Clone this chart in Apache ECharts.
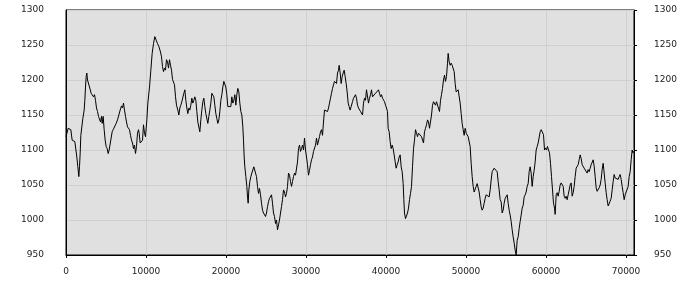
<!DOCTYPE html>
<html>
<head>
<meta charset="utf-8">
<script src="https://cdn.jsdelivr.net/npm/echarts@6/dist/echarts.min.js"></script>
<style>html,body{margin:0;padding:0;background:#fff;}#c{width:700px;height:300px;}</style>
</head>
<body>
<div id="c"></div>
<script>
var sampleX = [
0,271,438,604,771,938,1104,1229,1354,1479,1604,1688,1771,1854,1979,2104,2271,2354,2438,2521,2604,2688,2813,2938,3146,3271,3438,3563,3688,3813,3938,4063,4188,4313,4438,4521,4646,4771,4896,5021,5146,5271,5396,5521,5646,5771,5896,6021,6146,6271,6438,6604,6771,6938,7063,7188,7313,7438,7563,7688,7813,7938,8063,8188,8313,8438,8563,8688,8813,8938,9063,9146,9271,9438,9563,9688,9813,9938,10104,10229,10438,10604,10771,10938,11104,11271,11438,11604,
11813,11938,12063,12188,12313,12438,12563,12688,12813,12938,13063,13188,13313,13438,13563,13688,13813,13979,14104,14229,14354,14479,14604,14729,14854,14979,15104,15229,15354,15479,15604,15729,15854,15979,16104,16229,16354,16479,16604,16729,16854,16979,17104,17229,17354,17479,17604,17729,17854,17979,18104,18229,18354,18479,18604,18729,18854,18979,19104,19229,19354,19479,19604,19729,19854,19979,20104,20229,20354,20479,20604,20729,20854,20979,21104,21229,21354,21479,21604,21729,21854,21979,22104,22188,22271,22354,22479,22604,22688,22771,22854,22979,23104,23229,23354,23479,23604,
23813,23938,24063,24188,24313,24438,24563,24688,24813,24938,25063,25188,25313,25438,25563,25688,25813,25938,26063,26188,26313,26438,26563,26688,26813,26938,27063,27188,27313,27438,27563,27688,27813,27938,28063,28188,28313,28438,28563,28688,28813,28938,29063,29188,29313,29438,29563,29688,29813,29938,30063,30188,30313,30438,30563,30688,30813,30938,31063,31188,31313,31438,31563,31688,31813,31938,32063,32188,32313,32438,32563,32688,32813,32938,33063,33188,33313,33438,33563,33688,33813,33938,34063,34146,34271,34396,34521,34646,34771,34896,35021,35146,35271,35396,35521,35646,
35813,35938,36063,36188,36313,36438,36563,36688,36813,36938,37063,37188,37313,37438,37563,37688,37813,37938,38063,38188,38313,38438,38563,38688,38813,38938,39063,39188,39313,39438,39563,39688,39813,39938,40063,40188,40271,40396,40521,40646,40771,40896,41021,41146,41271,41396,41521,41646,41771,41896,42021,42146,42229,42313,42438,42563,42688,42813,42938,43063,43188,43313,43438,43563,43688,43813,43938,44063,44188,44313,44438,44563,44688,44813,44938,45063,45188,45313,45438,45563,45688,45813,45938,46063,46188,46313,46438,46563,46688,46813,46938,47063,47188,47313,47438,47563,47688,47771,
47896,48021,48146,48271,48396,48521,48646,48771,48896,49021,49146,49271,49396,49521,49646,49771,49896,50021,50146,50271,50396,50521,50646,50771,50896,51021,51146,51271,51396,51521,51646,51771,51896,52021,52146,52271,52396,52521,52646,52771,52896,53021,53146,53271,53396,53521,53646,53771,53896,54021,54146,54271,54396,54521,54646,54771,54896,55021,55146,55271,55396,55521,55646,55771,55896,56021,56146,56271,56396,56521,56646,56771,56896,57021,57146,57271,57396,57521,57646,57771,57896,58021,58146,58271,58396,58521,58646,58771,58896,59021,59146,59271,59396,59521,
59688,59813,59938,60063,60188,60313,60438,60563,60688,60813,60938,61063,61146,61271,61396,61521,61646,61771,61896,62021,62146,62271,62396,62521,62646,62771,62896,63021,63146,63271,63396,63521,63646,63771,63896,64021,64146,64271,64396,64521,64646,64771,64896,65021,65146,65271,65396,65521,65646,65771,65896,66021,66146,66271,66396,66521,66646,66771,66896,67021,67146,67271,67396,67521,67646,67771,67896,68021,68146,68271,68396,68521,68646,68771,68896,69021,69146,69271,69396,69521,69646,69771,69896,70021,70146,70271,70396,70521,70646,70771,70854,70938
];
var sampleY = [
1119,1131,1131,1129,1114,1114,1112,1110,1090,1076,1062,1076,1095,1121,1133,1145,1157,1171,1190,1205,1210,1200,1198,1190,1181,1183,1176,1179,1171,1160,1155,1148,1150,1140,1148,1138,1148,1129,1114,1105,1102,1095,1100,1098,1102,1126,1129,1131,1131,1138,1143,1150,1157,1163,1160,1167,1157,1148,1140,1133,1131,1129,1121,1114,1110,1102,1107,1095,1105,1124,1129,1124,1110,1110,1114,1136,1124,1119,1143,1167,1190,1214,1238,1252,1262,1257,1252,1248,
1240,1233,1219,1212,1217,1214,1229,1226,1217,1229,1221,1214,1201,1200,1193,1176,1164,1157,1150,1160,1164,1169,1171,1181,1186,1171,1160,1152,1160,1157,1164,1174,1167,1171,1176,1171,1155,1140,1138,1126,1143,1157,1169,1174,1162,1152,1150,1138,1148,1157,1167,1181,1183,1176,1164,1152,1145,1138,1143,1155,1171,1179,1190,1198,1198,1190,1179,1162,1160,1164,1162,1176,1167,1171,1179,1164,1179,1188,1183,1167,1155,1150,1133,1114,1090,1076,1062,1048,1033,1024,1043,1055,1062,1067,1069,1076,1074,
1062,1048,1038,1045,1036,1024,1014,1010,1012,1005,1010,1019,1026,1031,1033,1036,1024,1010,1005,995,1000,986,993,1000,1010,1019,1029,1043,1040,1033,1038,1048,1067,1064,1055,1048,1055,1062,1067,1064,1062,1083,1102,1107,1098,1102,1107,1100,1117,1100,1090,1079,1064,1071,1079,1086,1090,1098,1100,1107,1117,1107,1107,1119,1126,1129,1121,1140,1157,1155,1157,1155,1160,1167,1174,1181,1188,1193,1198,1200,1195,1210,1214,1221,1210,1195,1205,1210,1214,1205,1195,1183,1167,1162,1157,1162,
1169,1174,1176,1179,1174,1164,1160,1162,1155,1157,1150,1167,1174,1171,1186,1188,1167,1174,1179,1186,1176,1174,1176,1181,1179,1183,1186,1181,1176,1179,1174,1176,1169,1164,1160,1155,1131,1126,1112,1102,1107,1102,1093,1083,1074,1079,1083,1090,1093,1076,1069,1052,1029,1010,1002,1002,1010,1017,1029,1038,1048,1076,1102,1114,1129,1124,1119,1124,1126,1126,1119,1121,1110,1126,1131,1136,1143,1140,1131,1133,1150,1164,1169,1167,1164,1169,1167,1169,1155,1171,1179,1188,1200,1207,1198,1205,1224,1238,
1226,1221,1224,1221,1219,1212,1195,1183,1181,1186,1188,1167,1152,1138,1129,1121,1131,1124,1124,1119,1117,1105,1081,1062,1048,1040,1040,1048,1052,1050,1040,1029,1019,1014,1017,1024,1031,1036,1038,1036,1033,1043,1057,1069,1071,1074,1076,1074,1069,1055,1043,1029,1026,1010,1014,1024,1031,1033,1036,1024,1014,1007,998,986,976,967,957,950,971,976,988,998,1007,1017,1021,1033,1036,1040,1048,1052,1069,1076,1067,1048,1062,1071,1083,1100,1105,1110,1110,1126,1129,1131,
1122,1100,1103,1100,1105,1100,1096,1081,1062,1043,1024,1017,1008,1036,1039,1034,1041,1050,1053,1055,1048,1034,1031,1034,1029,1036,1043,1050,1053,1034,1039,1048,1062,1074,1072,1079,1086,1093,1088,1079,1081,1074,1074,1072,1067,1072,1069,1074,1079,1081,1086,1077,1062,1046,1041,1039,1046,1050,1058,1072,1081,1067,1053,1039,1029,1020,1022,1027,1031,1043,1055,1065,1060,1058,1062,1058,1062,1065,1058,1048,1039,1029,1036,1036,1034,1048,1062,1069,1086,1100,1096,1098
];
var xTickValues = [0,10000,20000,30000,40000,50000,60000,70000];
var yTickValues = [950,1000,1050,1100,1150,1200,1250,1300];

var n = Math.min(sampleX.length, sampleY.length);
var lineData = [];
for (var i = 0; i < n; i++) lineData.push([sampleX[i], sampleY[i]]);

function plain(v) { return String(v); }
var labelStyle = { color: '#222', fontFamily: 'DejaVu Sans', fontSize: 9, formatter: plain };
var chart = echarts.init(document.getElementById('c'), null, { renderer: 'canvas' });
chart.setOption({
  animation: false,
  grid: { left: 66, right: 66, top: 10, bottom: 45, show: true, backgroundColor: '#e0e0e0', borderColor: '#000', borderWidth: 1 },
  xAxis: {
    type: 'value', min: 0, max: 71000, interval: 10000,
    axisLine: { show: true, onZero: false, lineStyle: { color: '#000', width: 1 } },
    axisTick: { show: true, length: 3, lineStyle: { color: '#000' }, customValues: xTickValues },
    axisLabel: Object.assign({ margin: 12, customValues: xTickValues }, labelStyle),
    splitLine: { show: true, lineStyle: { color: '#d0d0d0', width: 1 } }
  },
  yAxis: [
    {
      type: 'value', min: 950, max: 1300, interval: 50, position: 'left',
      axisLine: { show: true, lineStyle: { color: '#000' } },
      axisTick: { show: false },
      axisLabel: Object.assign({ margin: 22 }, labelStyle),
      splitLine: { show: true, lineStyle: { color: '#d0d0d0', width: 1 } }
    },
    {
      type: 'value', min: 950, max: 1300, interval: 50, position: 'right',
      axisLine: { show: true, lineStyle: { color: '#000' } },
      axisTick: { show: true, length: 3, lineStyle: { color: '#000' } },
      axisLabel: Object.assign({ margin: 20 }, labelStyle),
      splitLine: { show: false }
    }
  ],
  series: [{
    type: 'line', data: lineData, yAxisIndex: 0, showSymbol: false, symbol: 'none',
    lineStyle: { color: '#000', width: 1 }, smooth: false, silent: true
  }]
});
</script>
</body>
</html>
